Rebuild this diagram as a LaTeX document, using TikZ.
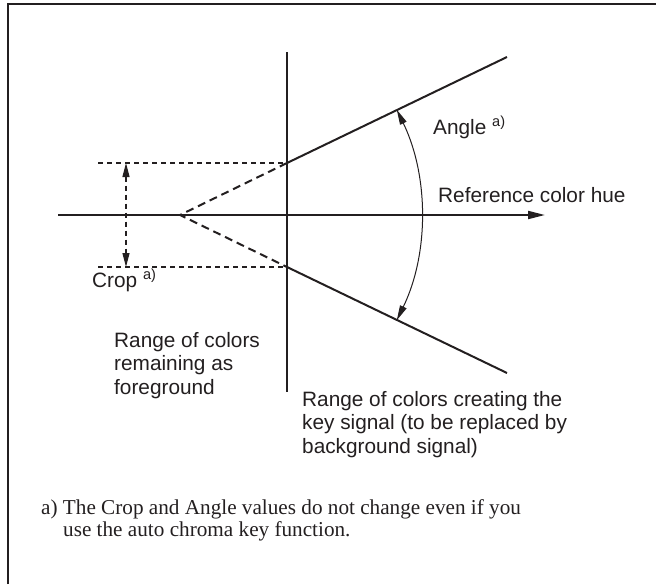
\documentclass[tikz,border=0pt]{standalone}
\usepackage{fontspec}
\setmainfont{Liberation Serif}
\setsansfont{Liberation Sans}
\usetikzlibrary{arrows.meta,positioning,calc}
\definecolor{ink}{HTML}{231F20}

\begin{document}
\begin{tikzpicture}[x=1pt,y=-1pt,
  lbl/.style={font=\fontsize{20.8}{23.4}\selectfont\sffamily,text=ink,align=left,inner sep=0pt},
  note/.style={font=\fontsize{21.2}{22}\selectfont\rmfamily,text=ink,align=left,inner sep=0pt},
  hue/.style={ink,line width=2pt},
  guide/.style={ink,line width=1.3pt,dash pattern=on 5pt off 4pt},
  edge/.style={ink,line width=2pt,dash pattern=on 8pt off 5pt}]
  \useasboundingbox (0,0) rectangle (656,584);
  % frame
  \draw[ink,line width=2.6pt] (8,584) -- (8,4) -- (656,4);

  % axes and range lines
  \coordinate (apex) at (180,215);
  \coordinate (axl) at (58,215);
  \coordinate (axr) at (545,215);
  \coordinate (vtop) at (287,52);
  \coordinate (vbot) at (287,392);
  \coordinate (up) at (287,163);
  \coordinate (lo) at (287,267);
  \coordinate (upend) at (507,57);
  \coordinate (loend) at (507,373);
  \coordinate (cropl) at (98,163);
  \coordinate (cropr) at (98,267);
  \coordinate (crtop) at (126,163);
  \coordinate (crbot) at (126,267);

  \draw[hue,-{Triangle[length=17pt,width=8pt]}] (axl) -- (axr);
  \draw[hue] (vtop) -- (vbot);
  \draw[hue] (up) -- (upend);
  \draw[hue] (lo) -- (loend);
  \draw[edge] (up) -- (apex) -- (lo);
  \draw[guide] (cropl) -- (up);
  \draw[guide] (cropr) -- (lo);
  \draw[guide,{Triangle[length=14pt,width=7pt]}-{Triangle[length=14pt,width=7pt]}] (crtop) -- (crbot);

  % angle arc
  \draw[ink,line width=1pt,{Triangle[length=15pt,width=7pt]}-{Triangle[length=15pt,width=7pt]}]
    ($(apex)+(25.9:241)$) arc[start angle=25.9,end angle=-25.9,radius=241];

  % labels (base = last line)
  \node[lbl,anchor=base west] (angle) at (433,134) {Angle \textsuperscript{a)}};
  \node[lbl,anchor=base west] (refhue) at (438,202) {Reference color hue};
  \node[lbl,anchor=base west] (crop) at (92,287) {Crop \textsuperscript{a)}};
  \node[lbl,anchor=base west] (fg) at (114,394) {Range of colors\\remaining as\\foreground};
  \node[lbl,anchor=base west] (key) at (302,453) {Range of colors creating the\\key signal (to be replaced by\\background signal)};
  \node[note,anchor=base west] (foot) at (41,536) {a) The Crop and Angle values do not change even if you\\\hspace*{22pt}use the auto chroma key function.};
\end{tikzpicture}
\end{document}
